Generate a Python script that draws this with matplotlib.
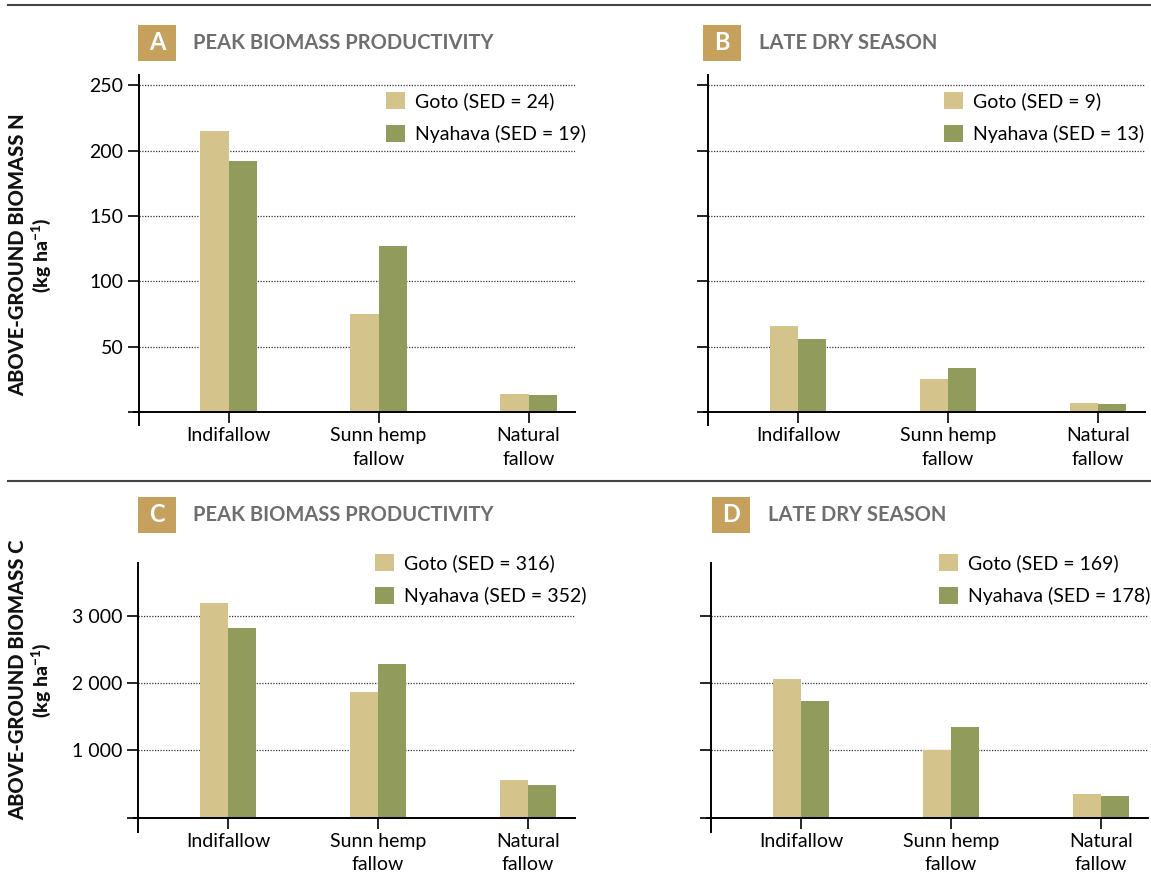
import matplotlib
matplotlib.use("Agg")
import matplotlib.pyplot as plt
from matplotlib.patches import Rectangle
from matplotlib.lines import Line2D

plt.rcParams['font.family'] = ['Lato', 'DejaVu Sans']

# ---------------- data ----------------
categories = ["Indifallow", "Sunn hemp\nfallow", "Natural\nfallow"]
series_names = ["Goto", "Nyahava"]

n_peak_goto = [215, 75, 14]
n_peak_nyahava = [192, 127, 13]
n_late_goto = [66, 25, 7]
n_late_nyahava = [56, 34, 6]

c_peak_goto = [3195, 1870, 555]
c_peak_nyahava = [2820, 2290, 480]
c_late_goto = [2060, 1000, 350]
c_late_nyahava = [1735, 1340, 320]

sed_n_peak = [24, 19]
sed_n_late = [9, 13]
sed_c_peak = [316, 352]
sed_c_late = [169, 178]

n_ticks = [0, 50, 100, 150, 200, 250]
n_ticklabels = ["", "50", "100", "150", "200", "250"]
c_ticks = [0, 1000, 2000, 3000]
c_ticklabels = ["", "1 000", "2 000", "3 000"]

panel_letters = ["A", "B", "C", "D"]
panel_titles = ["PEAK BIOMASS PRODUCTIVITY", "LATE DRY SEASON",
                "PEAK BIOMASS PRODUCTIVITY", "LATE DRY SEASON"]
ylabel_n = "ABOVE-GROUND BIOMASS N"
ylabel_c = "ABOVE-GROUND BIOMASS C"
unit_label = r"(kg ha$^{\mathregular{-1}}$)"

# ---------------- style ----------------
W, H = 1151, 885
GOTO = "#D4C48C"
NYAH = "#919C5C"
BOXC = "#C6A15E"
TITLEC = "#6E6E6E"
FS = 14

fig = plt.figure(figsize=(W / 100, H / 100), dpi=100)


def fx(x):
    return x / W


def fy(y):
    return 1 - y / H


def panel(left_px, top_px, bot_px, ylim, goto, nyah, ticks, ticklabels, sed, leg_xy):
    xl = (-0.63, 2.31)
    wpx = (xl[1] - xl[0]) * 150
    ax = fig.add_axes([fx(left_px), fy(bot_px), wpx / W, (bot_px - top_px) / H])
    x = list(range(len(categories)))
    bw = 0.187
    b1 = ax.bar([i - bw / 2 for i in x], goto, width=bw, color=GOTO, zorder=2)
    b2 = ax.bar([i + bw / 2 for i in x], nyah, width=bw, color=NYAH, zorder=2)
    ax.set_xlim(*xl)
    ax.set_ylim(*ylim)
    for s in ["top", "right"]:
        ax.spines[s].set_visible(False)
    ax.spines["left"].set_position(("data", -0.60))
    ax.spines["bottom"].set_position(("data", 0))
    for s in ["left", "bottom"]:
        ax.spines[s].set_linewidth(1.4)
        ax.spines[s].set_zorder(3)
    ax.set_yticks(ticks)
    ax.set_yticklabels(ticklabels, fontsize=FS)
    ax.set_xticks(x)
    ax.set_xticklabels(categories, fontsize=FS, linespacing=1.45)
    ax.tick_params(axis="y", direction="out", length=8, width=1.2, pad=3)
    ax.tick_params(axis="x", direction="out", length=8, width=1.2, pad=3)
    for t in ticks[1:]:
        ax.plot([-0.60, xl[1]], [t, t], ls=(0, (1, 1.2)), color="#333333",
                lw=0.9, zorder=1)
    labels = [f"{series_names[0]} (SED = {sed[0]})", f"{series_names[1]} (SED = {sed[1]})"]
    ax.legend([b1, b2], labels, loc="upper left",
              bbox_to_anchor=(fx(leg_xy[0]), fy(leg_xy[1])),
              bbox_transform=fig.transFigure, frameon=False, fontsize=FS,
              handlelength=1.0, handleheight=1.0, handletextpad=0.5,
              labelspacing=0.75, borderpad=0, borderaxespad=0)
    return ax


axA = panel(134, 75, 425, (-10, 258), n_peak_goto, n_peak_nyahava,
            n_ticks, n_ticklabels, sed_n_peak, (386, 92))
axB = panel(703.5, 75, 425, (-10, 258), n_late_goto, n_late_nyahava,
            n_ticks, [""] * len(n_ticks), sed_n_late, (944, 92))
axC = panel(133.5, 563, 832, (-215, 3785), c_peak_goto, c_peak_nyahava,
            c_ticks, c_ticklabels, sed_c_peak, (375, 554))
axD = panel(706.5, 563, 832, (-215, 3785), c_late_goto, c_late_nyahava,
            c_ticks, [""] * len(c_ticks), sed_c_late, (939, 554))

# panel headers
headers = [(138, 25, 193), (703, 25, 759), (138, 497, 193), (712, 497, 768)]
for (bx, by, tx), letter, title in zip(headers, panel_letters, panel_titles):
    fig.add_artist(Rectangle((fx(bx), fy(by + 36)), 38 / W, 36 / H,
                             transform=fig.transFigure, fc=BOXC, ec="none"))
    fig.text(fx(bx + 19), fy(by + 18), letter, color="white", fontsize=17,
             fontweight="bold", ha="center", va="center")
    fig.text(fx(tx), fy(by + 18), title, color=TITLEC, fontsize=14.5,
             fontweight="bold", ha="left", va="center")

# separator lines
fig.add_artist(Line2D([fx(8), 1], [fy(5), fy(5)], transform=fig.transFigure,
                      color="#444444", lw=1.5))
fig.add_artist(Line2D([fx(8), 1], [fy(481), fy(481)], transform=fig.transFigure,
                      color="#444444", lw=1.5))

# y labels
for yc, lab in [(255, ylabel_n), (680, ylabel_c)]:
    fig.text(fx(18), fy(yc), lab, rotation=90, ha="center", va="center",
             fontsize=14.5, fontweight="black", color="#111111")
    fig.text(fx(42), fy(yc), unit_label, rotation=90, ha="center", va="center",
             fontsize=14, fontweight="black", color="#111111")

fig.savefig("out.png", dpi=100)
